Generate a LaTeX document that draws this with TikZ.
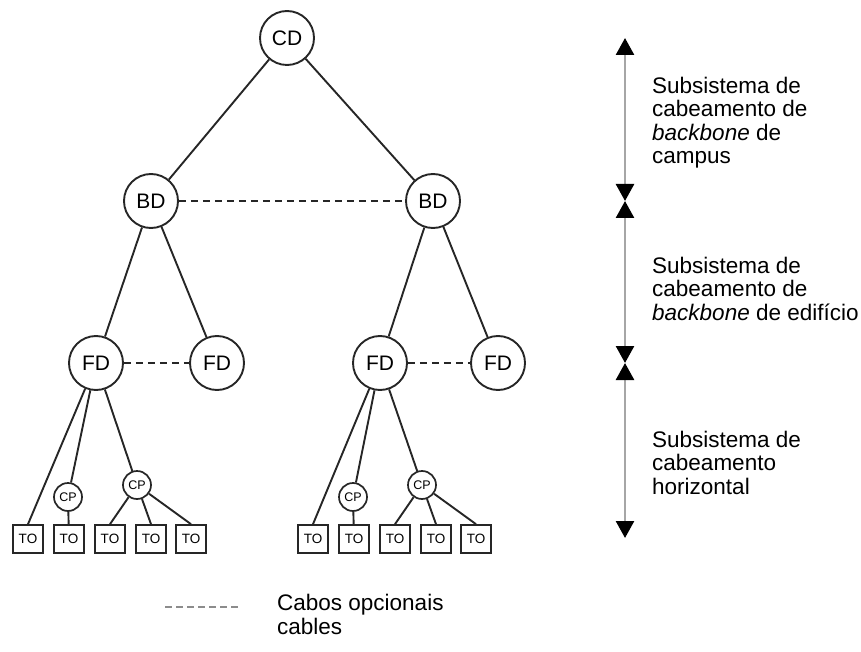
\documentclass[tikz,border=0pt]{standalone}
\usepackage{fontspec}
\setmainfont{Liberation Sans}
\usetikzlibrary{arrows.meta}
\tikzset{
  bignode/.style={circle, draw=black!85, line width=1.9pt, minimum size=54pt, inner sep=0pt, font=\fontsize{21}{21}\selectfont},
  cpnode/.style={circle, draw=black!85, line width=1.7pt, minimum size=28pt, inner sep=0pt, font=\fontsize{12.5}{12.5}\selectfont},
  tonode/.style={rectangle, draw=black!85, line width=1.7pt, minimum width=30pt, minimum height=28pt, inner sep=0pt, font=\fontsize{13.5}{13.5}\selectfont},
  link/.style={draw=black!85, line width=1.9pt},
  optlink/.style={draw=black!85, line width=1.7pt, dash pattern=on 7pt off 5pt},
  scaleline/.style={draw=black!35, line width=2.6pt},
  tiparrow/.style={-{Triangle[width=18pt,length=17pt,fill=black,color=black]}},
  lbl/.style={anchor=base west, align=left, inner sep=0pt, font=\fontsize{22.5}{23.5}\selectfont},
}
\begin{document}
\begin{tikzpicture}[x=1pt, y=-1pt]
\useasboundingbox (0,0) rectangle (861,652);
% main tree
\node[bignode] (cd) at (287,38) {CD};
\node[bignode] (bdl) at (151,201) {BD};
\node[bignode] (bdr) at (433,201) {BD};
\node[bignode] (fd1) at (96,363) {FD};
\node[bignode] (fd2) at (217,363) {FD};
\node[bignode] (fd3) at (380,363) {FD};
\node[bignode] (fd4) at (498,363) {FD};
% left group
\node[cpnode] (cp1) at (68,497) {CP};
\node[cpnode] (cp2) at (137,485) {CP};
\node[tonode] (to1) at (28,539) {TO};
\node[tonode] (to2) at (69,539) {TO};
\node[tonode] (to3) at (110,539) {TO};
\node[tonode] (to4) at (151,539) {TO};
\node[tonode] (to5) at (191,539) {TO};
% right group
\node[cpnode] (cp3) at (353,497) {CP};
\node[cpnode] (cp4) at (422,485) {CP};
\node[tonode] (to6) at (313,539) {TO};
\node[tonode] (to7) at (354,539) {TO};
\node[tonode] (to8) at (395,539) {TO};
\node[tonode] (to9) at (436,539) {TO};
\node[tonode] (to10) at (476,539) {TO};
% links
\draw[link] (cd) -- (bdl);
\draw[link] (cd) -- (bdr);
\draw[link] (bdl) -- (fd1);
\draw[link] (bdl) -- (fd2);
\draw[link] (bdr) -- (fd3);
\draw[link] (bdr) -- (fd4);
\draw[link] (fd1) -- (to1.north);
\draw[link] (fd1) -- (cp1);
\draw[link] (fd1) -- (cp2);
\draw[link] (cp1) -- (to2);
\draw[link] (cp2) -- (to3.north);
\draw[link] (cp2) -- (to4.north);
\draw[link] (cp2) -- (to5.north);
\draw[link] (fd3) -- (to6.north);
\draw[link] (fd3) -- (cp3);
\draw[link] (fd3) -- (cp4);
\draw[link] (cp3) -- (to7);
\draw[link] (cp4) -- (to8.north);
\draw[link] (cp4) -- (to9.north);
\draw[link] (cp4) -- (to10.north);
% optional cables
\draw[optlink] (bdl) -- (bdr);
\draw[optlink] (fd1) -- (fd2);
\draw[optlink] (fd3) -- (fd4);
% scale arrows
\coordinate (s0) at (625,38);
\coordinate (s1) at (625,201);
\coordinate (s2) at (625,363);
\coordinate (s3) at (625,538);
\coordinate (m1) at (625,120);
\coordinate (m2) at (625,282);
\coordinate (m3) at (625,450);
\draw[scaleline, tiparrow] (m1) -- (s0);
\draw[scaleline, tiparrow] (m1) -- (s1);
\draw[scaleline, tiparrow] (m2) -- (s1);
\draw[scaleline, tiparrow] (m2) -- (s2);
\draw[scaleline, tiparrow] (m3) -- (s2);
\draw[scaleline, tiparrow] (m3) -- (s3);
% labels (base anchor = baseline of last line)
\node[lbl] (t1) at (652,164) {Subsistema de\\cabeamento de\\\textit{backbone} de\\campus};
\node[lbl] (t2) at (652,320) {Subsistema de\\cabeamento de\\\textit{backbone} de edifício};
\node[lbl] (t3) at (652,494) {Subsistema de\\cabeamento\\horizontal};
% legend
\coordinate (l0) at (165,607);
\coordinate (l1) at (241,607);
\draw[draw=black!45, line width=1.8pt, dash pattern=on 7pt off 4pt] (l0) -- (l1);
\node[lbl] (t4) at (277,634) {Cabos opcionais\\cables};
\end{tikzpicture}
\end{document}
